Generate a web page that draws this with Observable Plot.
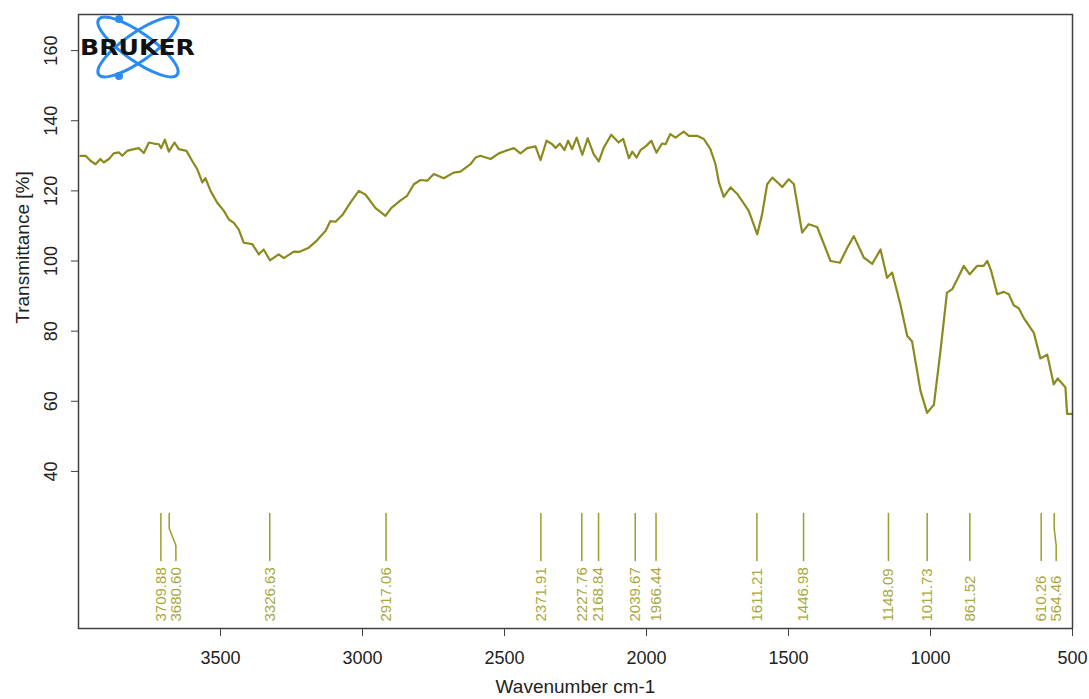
<!DOCTYPE html>
<html>
<head>
<meta charset="utf-8">
<script src="https://cdn.jsdelivr.net/npm/d3@7"></script>
<script src="https://cdn.jsdelivr.net/npm/@observablehq/plot@0.6"></script>
<style>
  body { margin: 0; background: #fff; }
  #wrap { position: relative; width: 1089px; height: 699px; overflow: hidden; }
  #logo { position: absolute; left: 0; top: 0; }
</style>
</head>
<body>
<div id="wrap"></div>
<script>
// ---- Spectrum ----
const wavenumber = [3993,3975,3958,3940,3923,3911,3893,3876,3858,3846,3829,3805,3788,3770,3752,3735,3717,3709,3696,3682,3662,3647,3620,3600,3582,3564,3553,3535,3512,3488,3471,3453,3436,3418,3388,3365,3348,3326,3295,3277,3242,3224,3189,3160,3130,3113,3095,3071,3042,3013,2989,2954,2919,2899,2866,2843,2819,2796,2772,2749,2714,2679,2655,2620,2602,2585,2549,2520,2497,2467,2444,2420,2391,2373,2352,2332,2320,2305,2289,2276,2262,2246,2226,2207,2186,2168,2150,2124,2098,2082,2062,2050,2035,2021,2000,1983,1965,1945,1933,1916,1898,1869,1851,1822,1798,1775,1757,1745,1728,1704,1681,1663,1640,1610,1593,1575,1557,1522,1499,1481,1452,1429,1399,1352,1319,1293,1270,1235,1205,1176,1153,1135,1106,1082,1065,1035,1012,988,965,942,924,900,883,862,836,813,800,786,765,742,724,707,689,672,636,613,589,566,552,525,519,501];
const transmittance = [130.0,130.0,128.6,127.6,129.1,128.1,129.1,130.7,131.0,130.0,131.4,131.9,132.2,130.8,133.8,133.5,133.3,132.2,134.6,131.2,133.8,131.9,131.4,128.6,126.2,122.4,123.6,120.0,116.7,114.3,111.9,110.9,109.0,105.2,104.8,101.9,103.3,100.2,101.9,100.8,102.7,102.6,103.8,105.9,108.6,111.4,111.2,113.1,116.7,120.0,118.9,115.1,112.9,115.1,117.3,118.6,121.9,123.1,122.9,124.8,123.6,125.2,125.5,127.6,129.5,130.0,129.1,130.7,131.4,132.2,130.7,132.2,132.7,128.8,134.3,133.3,132.2,133.5,131.6,134.3,131.9,135.2,130.3,135.0,130.5,128.4,132.4,136.0,133.8,134.8,129.3,131.2,129.5,131.6,132.9,134.3,130.9,133.5,133.3,136.2,135.2,136.9,135.7,135.7,134.8,131.9,127.6,122.4,118.3,121.0,119.2,117.1,114.3,107.6,113.3,121.9,123.8,121.1,123.3,121.9,108.1,110.5,109.7,100.0,99.5,103.8,107.1,101.0,99.2,103.3,95.2,96.7,87.6,78.6,77.1,62.9,56.7,59.0,74.3,91.0,91.9,95.7,98.6,96.2,98.6,98.6,100.0,97.1,90.5,91.2,90.5,87.4,86.5,83.8,79.5,72.2,73.3,64.8,66.5,64.0,56.4,56.4];

// ---- Peak picks ----
const peakPositions = [3709.88,3680.60,3326.63,2917.06,2371.91,2227.76,2168.84,2039.67,1966.44,1611.21,1446.98,1148.09,1011.73,861.52,610.26,564.46];
const peakLabels = ["3709.88","3680.60","3326.63","2917.06","2371.91","2227.76","2168.84","2039.67","1966.44","1611.21","1446.98","1148.09","1011.73","861.52","610.26","564.46"];

// ---- Axes ----
const xTicks = [3500,3000,2500,2000,1500,1000,500];
const yTicks = [40,60,80,100,120,140,160];
const xDomain = [4000, 500];
const yDomain = [-4.8, 170.3];
const xTitle = "Wavenumber cm-1";
const yTitle = "Transmittance [%]";
const logoText = "BRUKER";

// ---- Layout ----
const W = 1089, H = 699;
const mL = 78, mR = 17, mT = 14, mB = 71;
const curveColor = "#8a8a1e";
const peakLineColor = "#9c9c2a";
const peakTextColor = "#a8a83c";
const axisColor = "#404040";

const xs = d3.scaleLinear().domain(xDomain).range([mL, W - mR]);
const ys = d3.scaleLinear().domain(yDomain).range([H - mB, mT]);
const frameBottom = H - mB;

// peak marker geometry (pixel offsets from frame bottom)
const yTopPx = frameBottom - 115, yBendA = frameBottom - 100, yBendB = frameBottom - 83, yLowPx = frameBottom - 68, yLabelPx = frameBottom - 7;
const minGap = 15;
let prev = -Infinity;
const peaks = peakPositions.map((p, i) => {
  const px = xs(p);
  const lx = Math.max(px, prev + minGap);
  prev = lx;
  return {p, label: peakLabels[i], lx: xs.invert(lx)};
});
const segs = [];
peaks.forEach(d => {
  segs.push({k: d.label, x: d.p, y: ys.invert(yTopPx)});
  segs.push({k: d.label, x: d.p, y: ys.invert(yBendA)});
  segs.push({k: d.label, x: d.lx, y: ys.invert(yBendB)});
  segs.push({k: d.label, x: d.lx, y: ys.invert(yLowPx)});
});

const spectrum = wavenumber.map((w, i) => ({w, t: transmittance[i]}));

const chart = Plot.plot({
  width: W, height: H,
  marginLeft: mL, marginRight: mR, marginTop: mT, marginBottom: mB,
  style: {fontFamily: "'Liberation Sans', Arial, sans-serif", fontSize: "18px", background: "#fff", overflow: "visible"},
  x: {domain: xDomain, label: null},
  y: {domain: yDomain, label: null},
  marks: [
    Plot.line(spectrum, {x: "w", y: "t", stroke: curveColor, strokeWidth: 2.2, curve: "linear"}),
    Plot.line(segs, {x: "x", y: "y", z: "k", stroke: peakLineColor, strokeWidth: 1.5}),
    Plot.text(peaks, {x: "lx", y: () => ys.invert(yLabelPx), text: "label", rotate: -90, textAnchor: "start", lineAnchor: "middle", fill: peakTextColor, fontSize: 15}),
    Plot.axisX(xTicks, {tickSize: 8, tickPadding: 15, tickFormat: d => String(d), stroke: axisColor, fill: "#222", fontSize: 18, label: null}),
    Plot.axisY(yTicks, {tickSize: 7, tickPadding: 15, tickRotate: -90, tickFormat: d => String(d), stroke: axisColor, fill: "#222", fontSize: 18, label: null}),
    Plot.frame({stroke: axisColor, strokeWidth: 1.5}),
    Plot.text([xTitle], {frameAnchor: "bottom", dy: 58, lineAnchor: "middle", fontSize: 19, fill: "#222"}),
    Plot.text([yTitle], {frameAnchor: "left", y: () => ys.invert(247), dx: -56, rotate: -90, textAnchor: "middle", fontSize: 19, fill: "#222"})
  ]
});
document.getElementById("wrap").appendChild(chart);

// ---- Logo ----
const logo = d3.select("#wrap").append("svg").attr("id", "logo").attr("width", 210).attr("height", 90);
const blue = "#2a8cf2";
const g = logo.append("g").attr("transform", "translate(138,47)");
[35, -35].forEach(a => g.append("ellipse").attr("rx", 48).attr("ry", 14).attr("transform", `rotate(${a})`)
  .attr("fill", "none").attr("stroke", blue).attr("stroke-width", 3));
logo.append("circle").attr("cx", 119).attr("cy", 19).attr("r", 4).attr("fill", blue);
logo.append("circle").attr("cx", 119).attr("cy", 76).attr("r", 4).attr("fill", blue);
logo.append("text").attr("x", 80).attr("y", 55).attr("textLength", 115).attr("lengthAdjust", "spacingAndGlyphs")
  .attr("font-family", "'DejaVu Sans', sans-serif").attr("font-weight", "bold").attr("font-size", 21).attr("fill", "#111")
  .text(logoText);
</script>
</body>
</html>
